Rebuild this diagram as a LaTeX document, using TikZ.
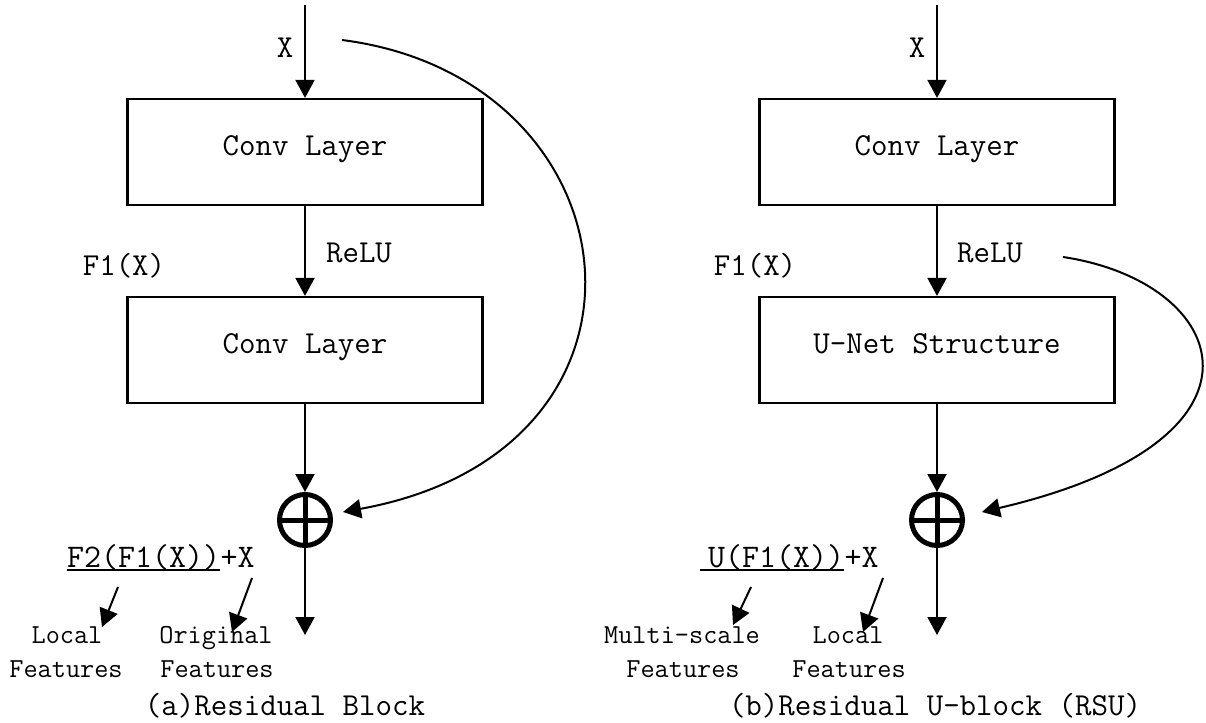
\documentclass[tikz,border=0pt]{standalone}
\usetikzlibrary{arrows.meta}
\newcommand\boxfont{\fontsize{32}{36}\selectfont\ttfamily}
\newcommand\formfont{\fontsize{33}{38}\selectfont\ttfamily}
\newcommand\notefont{\fontsize{27.5}{32}\selectfont\ttfamily}
\begin{document}
\begin{tikzpicture}[x=1pt,y=-1pt,
  flow/.style={line width=2pt,-{Triangle[length=18pt,width=19pt]}},
  layerbox/.style={draw,line width=2.2pt,minimum width=355pt,minimum height=106pt,
    inner sep=0pt,text height=0.61em,text depth=0pt,font=\boxfont},
  lbl/.style={inner sep=0pt,anchor=base,font=\boxfont},
  note/.style={inner sep=0pt,anchor=base,font=\notefont},
  form/.style={inner sep=0pt,anchor=base west,font=\formfont},
  uline/.style={line width=2pt},
  sumnode/.style={circle,draw,line width=5pt,minimum size=51pt,inner sep=0pt,
    path picture={\draw[line width=5pt]
      (path picture bounding box.west) -- (path picture bounding box.east)
      (path picture bounding box.north) -- (path picture bounding box.south);}}
]
\useasboundingbox (0,0) rectangle (1206,722);

% ---------- (a) residual block ----------
\node[layerbox] (c1) at (305,152) {Conv Layer};
\node[layerbox] (c2) at (305,350) {Conv Layer};
\node[sumnode] (s1) at (305,520) {};
\coordinate (in1) at (305,5);
\coordinate (out1) at (305,635);
\draw[flow] (in1) -- (c1.north);
\draw[flow] (c1) -- (c2);
\draw[flow] (c2) -- (s1);
\draw[flow] (s1) -- (out1);

\coordinate (sk1a) at (342,40);
\coordinate (sk1b) at (343,512);
\draw[flow] (sk1a) .. controls (640,78) and (685,450) .. (sk1b);

\node[lbl] (x1) at (285,58) {X};
\node[lbl] (r1) at (359,262) {ReLU};
\node[lbl] (f1) at (124,275) {F1(X)};

\node[form] (fa) at (67,567) {F2(F1(X))};
\node[form] (fb) at (fa.base east) {+X};
\draw[uline] ([yshift=-3pt]fa.base west) -- ([yshift=-3pt]fa.base east);

\node[note] (n1a) at (67,643) {Local};
\node[note] (n1b) at (66,677) {Features};
\node[note] (n2a) at (216,643) {Original};
\node[note] (n2b) at (217,677) {Features};

\coordinate (p1a) at (118,587);
\coordinate (p1b) at (102,627);
\coordinate (p2a) at (252,578);
\coordinate (p2b) at (232,632);
\draw[flow] (p1a) -- (p1b);
\draw[flow] (p2a) -- (p2b);

\node[lbl] (cap1) at (285,715) {(a)Residual Block};

% ---------- (b) residual U-block ----------
\node[layerbox] (d1) at (937,152) {Conv Layer};
\node[layerbox] (d2) at (937,350) {U-Net Structure};
\node[sumnode] (s2) at (937,520) {};
\coordinate (in2) at (937,5);
\coordinate (out2) at (937,635);
\draw[flow] (in2) -- (d1.north);
\draw[flow] (d1) -- (d2);
\draw[flow] (d2) -- (s2);
\draw[flow] (s2) -- (out2);

\coordinate (sk2a) at (1063,257);
\coordinate (sk2b) at (982,512);
\draw[flow] (sk2a) .. controls (1230,282) and (1290,440) .. (sk2b);

\node[lbl] (x2) at (917,58) {X};
\node[lbl] (r2) at (990,262) {ReLU};
\node[lbl] (f2) at (755,275) {F1(X)};

\node[form] (ga) at (708,567) {U(F1(X))};
\node[form] (gb) at (ga.base east) {+X};
\draw[uline] ([xshift=-8pt,yshift=-3pt]ga.base west) -- ([yshift=-3pt]ga.base east);

\node[note] (m1a) at (682,643) {Multi-scale};
\node[note] (m1b) at (683,677) {Features};
\node[note] (m2a) at (848,643) {Local};
\node[note] (m2b) at (849,677) {Features};

\coordinate (q1a) at (751,587);
\coordinate (q1b) at (733,625);
\coordinate (q2a) at (883,578);
\coordinate (q2b) at (863,632);
\draw[flow] (q1a) -- (q1b);
\draw[flow] (q2a) -- (q2b);

\node[lbl] (cap2) at (935,715) {(b)Residual U-block (RSU)};
\end{tikzpicture}
\end{document}
